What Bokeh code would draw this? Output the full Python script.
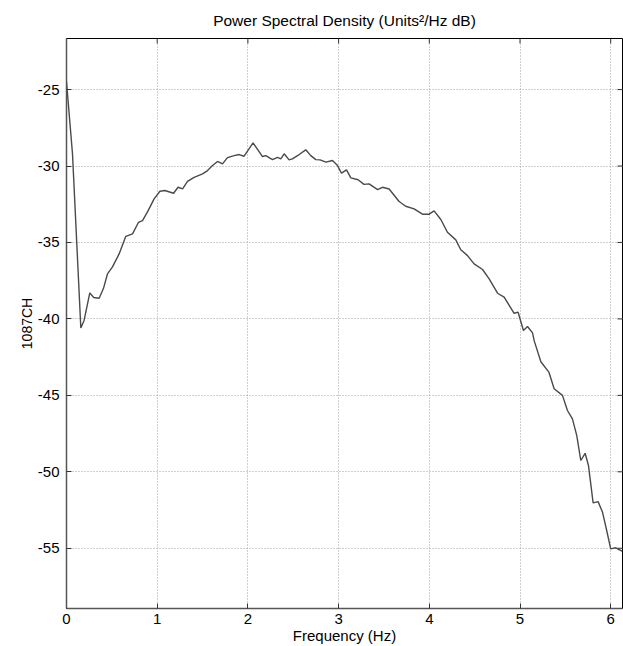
from bokeh.plotting import figure
from bokeh.models import FixedTicker, Range1d, PrintfTickFormatter, Title
from bokeh.embed import file_html
from bokeh.resources import INLINE

freq = [0.0, 0.066, 0.158, 0.194, 0.257, 0.30, 0.36, 0.408, 0.452, 0.507, 0.58, 0.654, 0.728,
        0.794, 0.838, 0.893, 0.966, 1.03, 1.084, 1.18, 1.23, 1.28, 1.334, 1.407, 1.50, 1.555,
        1.61, 1.665, 1.72, 1.775, 1.848, 1.903, 1.958, 2.057, 2.161, 2.197, 2.271, 2.326,
        2.363, 2.40, 2.454, 2.49, 2.565, 2.638, 2.693, 2.749, 2.796, 2.86, 2.933, 2.988,
        3.032, 3.087, 3.135, 3.215, 3.28, 3.336, 3.43, 3.484, 3.557, 3.667, 3.74, 3.832,
        3.925, 3.998, 4.053, 4.127, 4.2, 4.292, 4.347, 4.421, 4.494, 4.587, 4.66, 4.752,
        4.825, 4.935, 4.979, 5.008, 5.038, 5.083, 5.138, 5.156, 5.23, 5.32, 5.376, 5.468,
        5.523, 5.578, 5.626, 5.67, 5.718, 5.755, 5.806, 5.861, 5.91, 5.957, 6.0, 6.055, 6.13]
psd_db = [-24.5, -29.2, -40.6, -40.1, -38.3, -38.6, -38.65, -38.0, -37.05, -36.6, -35.75, -34.6,
          -34.44, -33.68, -33.57, -33.0, -32.15, -31.65, -31.6, -31.78, -31.39, -31.5, -31.0,
          -30.74, -30.51, -30.3, -29.97, -29.7, -29.86, -29.45, -29.32, -29.25, -29.36, -28.49,
          -29.38, -29.32, -29.58, -29.43, -29.53, -29.2, -29.6, -29.53, -29.25, -28.94, -29.32,
          -29.58, -29.6, -29.75, -29.64, -29.97, -30.47, -30.25, -30.78, -30.9, -31.2, -31.17,
          -31.54, -31.39, -31.5, -32.32, -32.63, -32.8, -33.15, -33.15, -32.93, -33.5, -34.33,
          -34.83, -35.48, -35.86, -36.4, -36.77, -37.38, -38.32, -38.58, -39.63, -39.56, -40.15,
          -40.76, -40.5, -40.91, -41.42, -42.8, -43.5, -44.57, -45.0, -45.99, -46.54, -47.63,
          -49.26, -48.79, -49.59, -52.03, -51.95, -52.65, -53.87, -55.04, -54.97, -55.2]
x_ticks = [0, 1, 2, 3, 4, 5, 6]
y_ticks = [-55, -50, -45, -40, -35, -30, -25]
title_text = "Power Spectral Density (Units\u00b2/Hz dB)"
x_label = "Frequency (Hz)"
y_label = "1087CH"

FONT = "Liberation Sans"
X0, X1 = 0.0, 6.13
Y0, Y1 = -58.94, -21.66
FRAME_W, FRAME_H = 556, 570

p = figure(width=623, height=646, output_backend="svg", toolbar_location=None,
           x_range=Range1d(X0, X1), y_range=Range1d(Y0, Y1),
           min_border_left=66, min_border_right=1, min_border_top=38, min_border_bottom=38)
p.title = Title(text=title_text, align="center", text_font=FONT, text_font_size="15.5px",
                text_font_style="normal", text_color="black", standoff=19)

p.line(freq, psd_db, line_color="#4a4a4a", line_width=1.4)

p.outline_line_color = "black"
p.outline_line_width = 1
p.background_fill_color = "white"
p.border_fill_color = "white"

for ax, tk in ((p.xaxis[0], x_ticks), (p.yaxis[0], y_ticks)):
    ax.ticker = FixedTicker(ticks=tk)
    ax.formatter = PrintfTickFormatter(format="%d")
    ax.major_tick_in = 5
    ax.major_tick_out = 0
    ax.minor_tick_line_color = None
    ax.axis_line_color = "#555555"
    ax.axis_line_width = 1.5
    ax.major_tick_line_color = "#333333"
    ax.major_label_text_font = FONT
    ax.major_label_text_font_size = "15px"
    ax.major_label_text_color = "black"
    ax.axis_label_text_font = FONT
    ax.axis_label_text_font_size = "14px"
    ax.axis_label_text_font_style = "normal"
    ax.axis_label_text_color = "black"

p.xaxis[0].axis_label = x_label
p.xaxis[0].axis_label_text_font_size = "15px"
p.xaxis[0].major_label_standoff = 5
p.xaxis[0].axis_label_standoff = 0
p.yaxis[0].axis_label = y_label
p.yaxis[0].axis_label_standoff = 0
p.yaxis[0].major_label_standoff = 7

# inward tick marks on the right and top edges of the box
tick_dx = (X1 - X0) * 5 / FRAME_W
tick_dy = (Y1 - Y0) * 5 / FRAME_H
p.segment(x0=[X1] * len(y_ticks), y0=y_ticks, x1=[X1 - tick_dx] * len(y_ticks), y1=y_ticks,
          line_color="#333333", line_width=1)
p.segment(x0=x_ticks, y0=[Y1] * len(x_ticks), x1=x_ticks, y1=[Y1 - tick_dy] * len(x_ticks),
          line_color="#333333", line_width=1)

p.xgrid.ticker = FixedTicker(ticks=x_ticks)
p.ygrid.ticker = FixedTicker(ticks=y_ticks)
for g in (p.xgrid[0], p.ygrid[0]):
    g.grid_line_color = "#a0a0a0"
    g.grid_line_dash = "1 2"
    g.grid_line_width = 1

open("out.html", "w").write(file_html(p, INLINE))
